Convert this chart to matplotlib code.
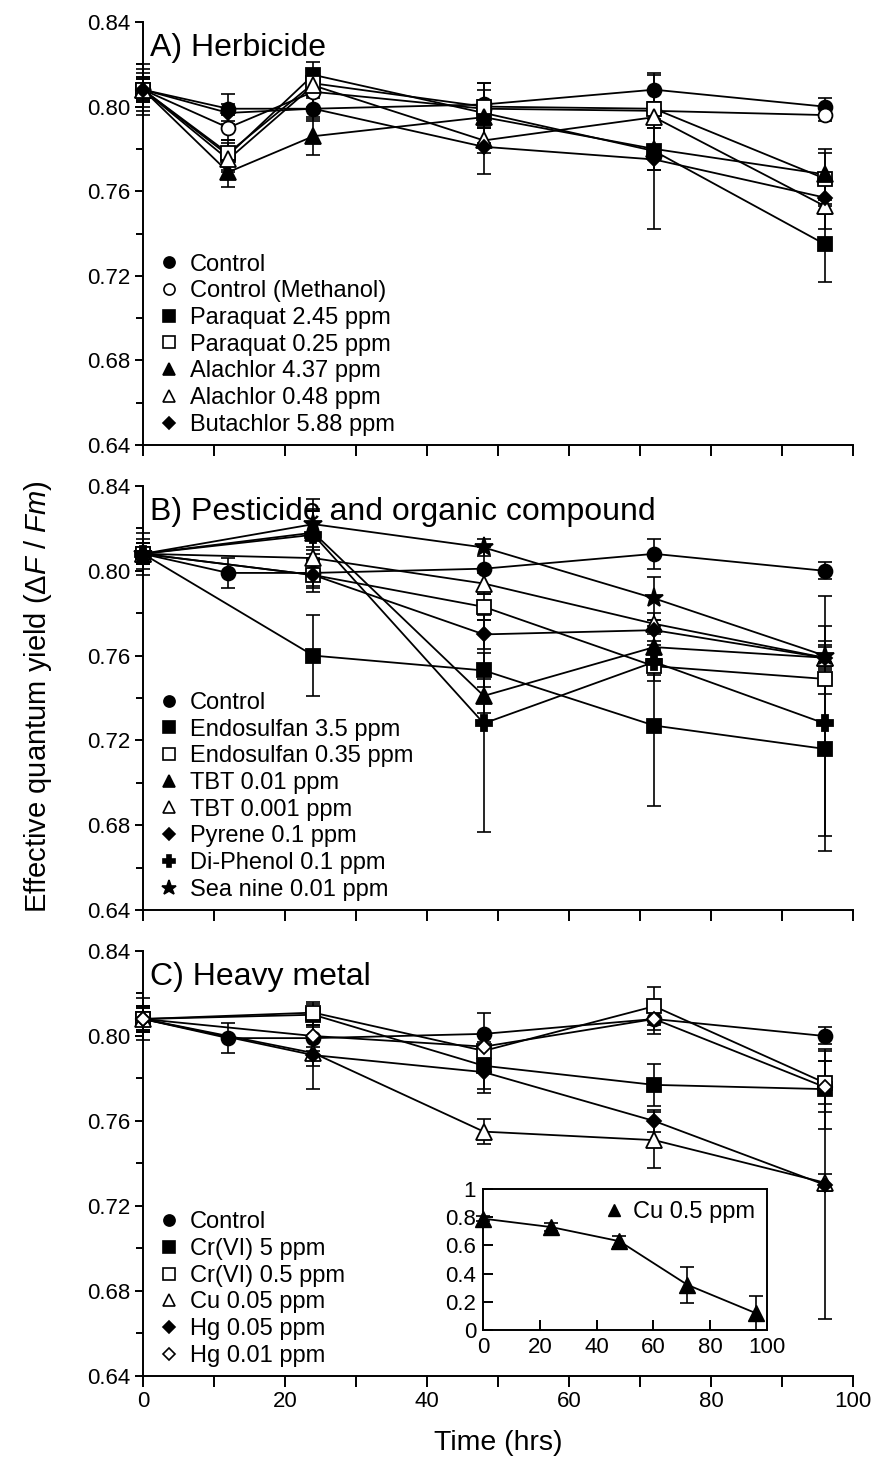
import matplotlib
matplotlib.use("Agg")
import matplotlib.pyplot as plt
from matplotlib.lines import Line2D
from matplotlib.ticker import MultipleLocator

plt.rcParams['font.family'] = ['Liberation Sans', 'DejaVu Sans']
plt.rcParams['mathtext.fontset'] = 'custom'
plt.rcParams['mathtext.rm'] = 'Liberation Sans'
plt.rcParams['mathtext.it'] = 'Liberation Sans:italic'

# ---------------- data ----------------
t_full = [0, 12, 24, 48, 72, 96]
t_main = [0, 24, 48, 72, 96]

# Control (shared by all three panels)
control = [0.808, 0.799, 0.799, 0.801, 0.808, 0.800]
control_err = [0.010, 0.007, 0.006, 0.010, 0.007, 0.004]

# A) Herbicide
methanol = [0.808, 0.790, 0.807, 0.799, 0.798, 0.796]
methanol_err = [0.008, 0.006, 0.007, 0.004, 0.004, 0.003]
paraquat_245 = [0.808, 0.777, 0.815, 0.797, 0.779, 0.735]
paraquat_245_err = [0.012, 0.007, 0.006, 0.014, 0.037, 0.018]
paraquat_025 = [0.808, 0.778, 0.811, 0.800, 0.799, 0.766]
paraquat_025_err = [0.006, 0.005, 0.004, 0.008, 0.003, 0.012]
alachlor_437 = [0.808, 0.769, 0.786, 0.795, 0.780, 0.768]
alachlor_437_err = [0.006, 0.007, 0.009, 0.005, 0.010, 0.012]
alachlor_048 = [0.808, 0.775, 0.810, 0.784, 0.795, 0.753]
alachlor_048_err = [0.005, 0.006, 0.004, 0.006, 0.005, 0.011]
butachlor = [0.808, 0.797, 0.799, 0.781, 0.775, 0.757]
butachlor_err = [0.005, 0.004, 0.005, 0.013, 0.005, 0.008]

# B) Pesticide and organic compound
endo_35 = [0.808, 0.760, 0.753, 0.727, 0.716]
endo_35_err = [0.007, 0.019, 0.008, 0.038, 0.041]
endo_035 = [0.808, 0.798, 0.783, 0.755, 0.749]
endo_035_err = [0.005, 0.006, 0.006, 0.007, 0.007]
tbt_001 = [0.808, 0.818, 0.741, 0.764, 0.759]
tbt_001_err = [0.005, 0.010, 0.008, 0.010, 0.008]
tbt_0001 = [0.808, 0.806, 0.794, 0.775, 0.759]
tbt_0001_err = [0.005, 0.005, 0.005, 0.005, 0.006]
pyrene = [0.808, 0.798, 0.770, 0.772, 0.759]
pyrene_err = [0.005, 0.008, 0.007, 0.005, 0.005]
diphenol = [0.808, 0.817, 0.728, 0.757, 0.728]
diphenol_err = [0.005, 0.012, 0.051, 0.006, 0.060]
seanine = [0.808, 0.822, 0.811, 0.787, 0.760]
seanine_err = [0.005, 0.012, 0.004, 0.010, 0.014]

# C) Heavy metal
cr_5 = [0.808, 0.810, 0.786, 0.777, 0.775]
cr_5_err = [0.006, 0.006, 0.011, 0.010, 0.019]
cr_05 = [0.808, 0.811, 0.793, 0.814, 0.778]
cr_05_err = [0.006, 0.004, 0.008, 0.009, 0.010]
cu_005 = [0.808, 0.792, 0.755, 0.751, 0.731]
cu_005_err = [0.005, 0.006, 0.006, 0.013, 0.004]
hg_005 = [0.808, 0.791, 0.783, 0.760, 0.730]
hg_005_err = [0.006, 0.016, 0.010, 0.005, 0.063]
hg_001 = [0.808, 0.800, 0.795, 0.808, 0.776]
hg_001_err = [0.005, 0.005, 0.005, 0.005, 0.012]

# Inset: Cu 0.5 ppm
t_inset = [0, 24, 48, 72, 96]
cu_05 = [0.79, 0.73, 0.63, 0.32, 0.12]
cu_05_err = [0.02, 0.03, 0.04, 0.13, 0.12]

# ---------------- styling ----------------
MARKERS = {
    'circle': ('o', 10), 'square': ('s', 10), 'triangle': ('^', 11),
    'diamond': ('D', 7.5), 'plus': ('P', 11), 'star': ('*', 14),
}

FS_TICK = 16
FS_LEG = 17
FS_TITLE = 23

fig = plt.figure(figsize=(8.76, 14.63), dpi=100)

L, W = 143 / 876, 710 / 876
H = 1463
ax_a = fig.add_axes([L, 1 - 445 / H, W, 423 / H])
ax_b = fig.add_axes([L, 1 - 910 / H, W, 424 / H])
ax_c = fig.add_axes([L, 1 - 1376 / H, W, 425 / H])


def draw_series(ax, t, y, e, shape, filled):
    m, ms = MARKERS[shape]
    ax.errorbar(t, y, yerr=e, fmt='none', ecolor='k', elinewidth=1.2,
                capsize=5, capthick=1.2, clip_on=False, zorder=2)
    ax.plot(t, y, '-', color='k', lw=1.3, zorder=2.5, clip_on=False)
    ax.plot(t, y, ls='none', marker=m, ms=ms, mec='k', mew=1.3,
            mfc='k' if filled else 'white', clip_on=False, zorder=3)
    return Line2D([], [], ls='none', marker=m, ms=ms * 0.8, mec='k', mew=1.2,
                  mfc='k' if filled else 'white')


def style_axes(ax, show_xlabels):
    ax.set_xlim(0, 100)
    ax.set_ylim(0.64, 0.84)
    for s in ('top', 'right'):
        ax.spines[s].set_visible(False)
    for s in ('left', 'bottom'):
        ax.spines[s].set_linewidth(1.4)
    ax.xaxis.set_major_locator(MultipleLocator(20))
    ax.xaxis.set_minor_locator(MultipleLocator(10))
    ax.yaxis.set_major_locator(MultipleLocator(0.04))
    ax.yaxis.set_minor_locator(MultipleLocator(0.02))
    ax.tick_params(axis='x', which='both', direction='out', length=8,
                   width=1.4, labelsize=FS_TICK, labelbottom=show_xlabels, pad=3)
    ax.tick_params(axis='y', which='major', direction='out', length=6,
                   width=1.4, labelsize=FS_TICK, pad=3)
    ax.tick_params(axis='y', which='minor', direction='out', length=5,
                   width=1.4)
    ax.yaxis.set_major_formatter(plt.FuncFormatter(lambda v, p: f"{v:.2f}"))


def add_legend(ax, handles, labels):
    ax.legend(handles, labels, loc='lower left', bbox_to_anchor=(0.0, -0.012),
              frameon=False, fontsize=FS_LEG, handlelength=1.0,
              handletextpad=0.4, labelspacing=0.2, borderaxespad=0.4,
              borderpad=0.2)


# ---- Panel A ----
hA = [
    draw_series(ax_a, t_full, control, control_err, 'circle', True),
    draw_series(ax_a, t_full, methanol, methanol_err, 'circle', False),
    draw_series(ax_a, t_full, paraquat_245, paraquat_245_err, 'square', True),
    draw_series(ax_a, t_full, paraquat_025, paraquat_025_err, 'square', False),
    draw_series(ax_a, t_full, alachlor_437, alachlor_437_err, 'triangle', True),
    draw_series(ax_a, t_full, alachlor_048, alachlor_048_err, 'triangle', False),
    draw_series(ax_a, t_full, butachlor, butachlor_err, 'diamond', True),
]
labA = ['Control', 'Control (Methanol)', 'Paraquat 2.45 ppm', 'Paraquat 0.25 ppm',
        'Alachlor 4.37 ppm', 'Alachlor 0.48 ppm', 'Butachlor 5.88 ppm']
style_axes(ax_a, False)
add_legend(ax_a, hA, labA)
ax_a.text(0.01, 0.975, 'A) Herbicide', transform=ax_a.transAxes,
          va='top', ha='left', fontsize=FS_TITLE)

# ---- Panel B ----
hB = [
    draw_series(ax_b, t_full, control, control_err, 'circle', True),
    draw_series(ax_b, t_main, endo_35, endo_35_err, 'square', True),
    draw_series(ax_b, t_main, endo_035, endo_035_err, 'square', False),
    draw_series(ax_b, t_main, tbt_001, tbt_001_err, 'triangle', True),
    draw_series(ax_b, t_main, tbt_0001, tbt_0001_err, 'triangle', False),
    draw_series(ax_b, t_main, pyrene, pyrene_err, 'diamond', True),
    draw_series(ax_b, t_main, diphenol, diphenol_err, 'plus', True),
    draw_series(ax_b, t_main, seanine, seanine_err, 'star', True),
]
labB = ['Control', 'Endosulfan 3.5 ppm', 'Endosulfan 0.35 ppm', 'TBT 0.01 ppm',
        'TBT 0.001 ppm', 'Pyrene 0.1 ppm', 'Di-Phenol 0.1 ppm', 'Sea nine 0.01 ppm']
style_axes(ax_b, False)
add_legend(ax_b, hB, labB)
ax_b.text(0.01, 0.975, 'B) Pesticide and organic compound', transform=ax_b.transAxes,
          va='top', ha='left', fontsize=FS_TITLE)

# ---- Panel C ----
hC = [
    draw_series(ax_c, t_full, control, control_err, 'circle', True),
    draw_series(ax_c, t_main, cr_5, cr_5_err, 'square', True),
    draw_series(ax_c, t_main, cr_05, cr_05_err, 'square', False),
    draw_series(ax_c, t_main, cu_005, cu_005_err, 'triangle', False),
    draw_series(ax_c, t_main, hg_005, hg_005_err, 'diamond', True),
    draw_series(ax_c, t_main, hg_001, hg_001_err, 'diamond', False),
]
labC = ['Control', 'Cr(VI) 5 ppm', 'Cr(VI) 0.5 ppm', 'Cu 0.05 ppm',
        'Hg 0.05 ppm', 'Hg 0.01 ppm']
style_axes(ax_c, True)
add_legend(ax_c, hC, labC)
ax_c.text(0.01, 0.975, 'C) Heavy metal', transform=ax_c.transAxes,
          va='top', ha='left', fontsize=FS_TITLE)

# ---- Inset (Cu 0.5 ppm) ----
ax_in = fig.add_axes([483 / 876, 1 - 1330 / H, 284 / 876, 141 / H])
ax_in.errorbar(t_inset, cu_05, yerr=cu_05_err, fmt='none', ecolor='k',
               elinewidth=1.2, capsize=5, capthick=1.2, clip_on=False)
ax_in.plot(t_inset, cu_05, '-', color='k', lw=1.3)
ax_in.plot(t_inset, cu_05, ls='none', marker='^', ms=11, mfc='k', mec='k',
           clip_on=False, zorder=3)
ax_in.set_xlim(0, 100)
ax_in.set_ylim(0, 1)
ax_in.xaxis.set_major_locator(MultipleLocator(20))
ax_in.yaxis.set_major_locator(MultipleLocator(0.2))
ax_in.yaxis.set_major_formatter(plt.FuncFormatter(lambda v, p: f"{v:g}"))
ax_in.tick_params(direction='in', length=7, width=1.4, labelsize=FS_TICK, pad=5)
for s in ax_in.spines.values():
    s.set_linewidth(1.4)
ax_in.legend([Line2D([], [], ls='none', marker='^', ms=9, mfc='k', mec='k')],
             ['Cu 0.5 ppm'], loc='upper right', frameon=False, fontsize=FS_LEG,
             handlelength=0.8, handletextpad=0.4, borderaxespad=0.2, borderpad=0.3)

# ---- shared axis labels ----
fig.text(38 / 876, 1 - 697 / H, r'Effective quantum yield ($\Delta\mathit{F}$ / $\mathit{Fm}$)',
         rotation=90, ha='center', va='center', fontsize=21)
fig.text(498 / 876, 1 - 1443 / H, 'Time (hrs)', ha='center', va='center', fontsize=20.5)

fig.savefig('out.png', dpi=100)
